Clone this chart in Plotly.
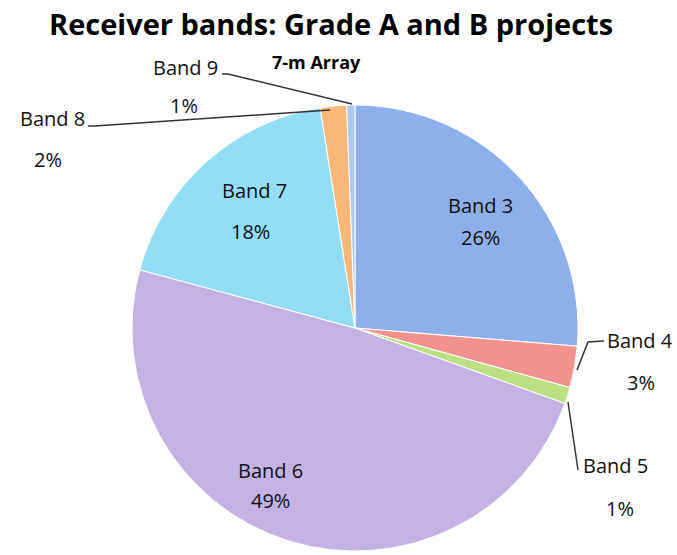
import plotly.graph_objects as go

W, H = 677, 555

bands = ["Band 3", "Band 4", "Band 5", "Band 6", "Band 7", "Band 8", "Band 9"]
shares = [26.3, 3.0, 1.2, 48.7, 18.3, 1.9, 0.6]
colors = ["#8DB0EA", "#F2928E", "#BCE084", "#C4B2E4", "#93DEF5", "#F8B87A", "#AFC8EE"]

total = sum(shares)
pct = [f"{round(v / total * 100)}%" for v in shares]

def px(x, y):
    return x / W, 1 - y / H

fig = go.Figure(go.Pie(
    labels=bands, values=shares, sort=False, direction="clockwise", rotation=0,
    marker=dict(colors=colors, line=dict(color="white", width=1)),
    textinfo="none", hoverinfo="label+percent", showlegend=False,
    domain=dict(x=[131 / W, 579 / W], y=[1 - 551 / H, 1 - 105 / H]),
))

# label positions (pixels): name position, percent position
label_pos = {
    "Band 3": ((480, 205), (481, 237)),
    "Band 4": ((640, 340), (641, 383)),
    "Band 5": ((615, 465), (620, 508)),
    "Band 6": ((270, 470), (270, 500)),
    "Band 7": ((255, 190), (250, 232)),
    "Band 8": ((52, 118), (48, 160)),
    "Band 9": ((185, 67), (184, 105)),
}
font = dict(family="Open Sans, Lato, sans-serif", size=20, color="#111111")
annotations = []
for b, p in zip(bands, pct):
    (nx, ny), (qx, qy) = label_pos[b]
    x, y = px(nx, ny)
    annotations.append(dict(x=x, y=y, xref="paper", yref="paper", text=b,
                            showarrow=False, font=font, xanchor="center", yanchor="middle"))
    x, y = px(qx, qy)
    annotations.append(dict(x=x, y=y, xref="paper", yref="paper", text=p,
                            showarrow=False, font=dict(font, size=20), xanchor="center", yanchor="middle"))

annotations.append(dict(x=px(331, 23)[0], y=px(331, 23)[1], xref="paper", yref="paper",
                        text="<b>Receiver bands: Grade A and B projects</b>", showarrow=False,
                        font=dict(family="Open Sans, Lato, sans-serif", size=29, color="#000000"),
                        xanchor="center", yanchor="middle"))
annotations.append(dict(x=px(316, 62)[0], y=px(316, 62)[1], xref="paper", yref="paper",
                        text="<b>7-m Array</b>", showarrow=False,
                        font=dict(family="Open Sans, Lato, sans-serif", size=18, color="#000000"),
                        xanchor="center", yanchor="middle"))

# leader lines (pixel paths)
leaders = [
    [(222, 74), (228, 74), (352, 104)],
    [(88, 126), (95, 126), (330, 110)],
    [(604, 341), (588, 342), (577, 370)],
    [(578, 470), (568, 402)],
]
shapes = []
for pts in leaders:
    path = ""
    for i, (x, y) in enumerate(pts):
        a, b = px(x, y)
        path += ("M" if i == 0 else "L") + f" {a} {b} "
    shapes.append(dict(type="path", path=path, xref="paper", yref="paper",
                       line=dict(color="#333333", width=1.5)))

fig.update_layout(width=W, height=H, margin=dict(l=0, r=0, t=0, b=0),
                  paper_bgcolor="white", plot_bgcolor="white",
                  annotations=annotations, shapes=shapes)

fig.write_html("out.html", config={"displayModeBar": False},
               post_script="document.body.style.margin='0';document.body.style.overflow='hidden';")
